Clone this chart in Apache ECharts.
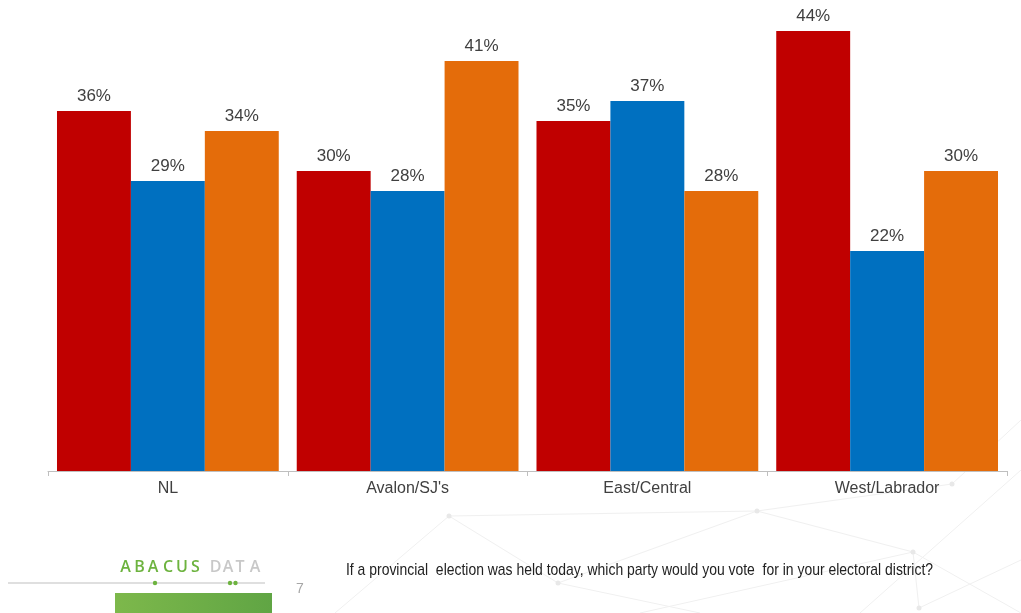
<!DOCTYPE html>
<html>
<head>
<meta charset="utf-8">
<script src="https://cdn.jsdelivr.net/npm/echarts@6/dist/echarts.min.js"></script>
<style>
html,body{margin:0;padding:0;background:#fff;}
#chart{width:1021px;height:613px;}
</style>
</head>
<body>
<div id="chart"></div>
<script>
var categories = ["NL", "Avalon/SJ's", "East/Central", "West/Labrador"];
var redValues = [36, 30, 35, 44];
var blueValues = [29, 28, 37, 22];
var orangeValues = [34, 41, 28, 30];
var questionText = "If a provincial  election was held today, which party would you vote  for in your electoral district?";
var pageNumber = "7";

var chart = echarts.init(document.getElementById('chart'), null, {renderer: 'canvas'});

var labelStyle = {
  show: true,
  position: 'top',
  distance: 6,
  formatter: '{c}%',
  fontSize: 17,
  fontFamily: '"Liberation Sans", Arial, sans-serif',
  color: '#404040'
};

function bg(points) {
  return {type: 'polyline', silent: true, z: -10, shape: {points: points},
    style: {stroke: '#F0F0F0', lineWidth: 1, fill: null}};
}
function dot(x, y) {
  return {type: 'circle', silent: true, z: -10, shape: {cx: x, cy: y, r: 2.5},
    style: {fill: '#E8E8E8'}};
}
function logoLetter(ch, x, color) {
  return {type: 'text', x: x, y: 567, silent: true,
    style: {text: ch, fill: color, fontSize: 16, fontWeight: 600, fontFamily: '"Open Sans", sans-serif',
      align: 'center', verticalAlign: 'middle'}};
}

var graphics = [
  bg([[335, 613], [449, 516], [757, 511], [913, 552], [1021, 613]]),
  bg([[449, 516], [558, 583], [700, 613]]),
  bg([[558, 583], [757, 511], [952, 484], [1021, 420]]),
  bg([[640, 613], [913, 552], [919, 608]]),
  bg([[860, 613], [1021, 470]]),
  bg([[919, 608], [1021, 560]]),
  dot(449, 516), dot(757, 511), dot(913, 552), dot(558, 583), dot(952, 484), dot(919, 608),
  logoLetter('A', 125.5, '#6DB33F'),
  logoLetter('B', 139.5, '#6DB33F'),
  logoLetter('A', 153, '#6DB33F'),
  logoLetter('C', 168, '#6DB33F'),
  logoLetter('U', 182, '#6DB33F'),
  logoLetter('S', 195.5, '#6DB33F'),
  logoLetter('D', 215.5, '#C8C8C8'),
  logoLetter('A', 228, '#C8C8C8'),
  logoLetter('T', 240, '#C8C8C8'),
  logoLetter('A', 255, '#C8C8C8'),
  {type: 'line', silent: true, shape: {x1: 8, y1: 583, x2: 265, y2: 583},
    style: {stroke: '#BFBFBF', lineWidth: 1}},
  {type: 'circle', silent: true, shape: {cx: 155, cy: 583, r: 2.2}, style: {fill: '#6DB33F'}},
  {type: 'circle', silent: true, shape: {cx: 230, cy: 583, r: 2.2}, style: {fill: '#6DB33F'}},
  {type: 'circle', silent: true, shape: {cx: 235.5, cy: 583, r: 2.2}, style: {fill: '#6DB33F'}},
  {type: 'text', x: 300, y: 589, silent: true,
    style: {text: pageNumber, fill: '#A6A6A6', fontSize: 14, fontFamily: '"Liberation Sans", Arial, sans-serif',
      align: 'center', verticalAlign: 'middle'}},
  {type: 'rect', silent: true, shape: {x: 115, y: 593, width: 157, height: 20},
    style: {fill: new echarts.graphic.LinearGradient(0, 0, 1, 0, [
      {offset: 0, color: '#7DB84B'}, {offset: 1, color: '#60A544'}])}},
  {type: 'text', x: 346, y: 570, scaleX: 0.82, silent: true,
    style: {text: questionText, fill: '#222222', fontSize: 17,
      fontFamily: '"Liberation Sans", Arial, sans-serif',
      align: 'left', verticalAlign: 'middle'}}
];

chart.setOption({
  animation: false,
  backgroundColor: '#ffffff',
  grid: {left: 48, right: 14, top: 21, bottom: 142, containLabel: false},
  xAxis: {
    type: 'category',
    data: categories,
    boundaryGap: true,
    axisLine: {show: true, lineStyle: {color: '#BFBFBF', width: 1}},
    axisTick: {show: true, length: 5, lineStyle: {color: '#BFBFBF'}},
    axisLabel: {
      margin: 10,
      fontSize: 16,
      fontFamily: '"Liberation Sans", Arial, sans-serif',
      color: '#404040'
    }
  },
  yAxis: {
    type: 'value', min: 0, max: 45, show: false,
    splitLine: {show: false}
  },
  series: [
    {type: 'bar', name: 'Red', data: redValues, barGap: '0%', barCategoryGap: '7.5%',
      itemStyle: {color: '#C00000'}, label: labelStyle},
    {type: 'bar', name: 'Blue', data: blueValues, barGap: '0%', barCategoryGap: '7.5%',
      itemStyle: {color: '#0070C0'}, label: labelStyle},
    {type: 'bar', name: 'Orange', data: orangeValues, barGap: '0%', barCategoryGap: '7.5%',
      itemStyle: {color: '#E46C0A'}, label: labelStyle}
  ],
  graphic: graphics
});
</script>
</body>
</html>
